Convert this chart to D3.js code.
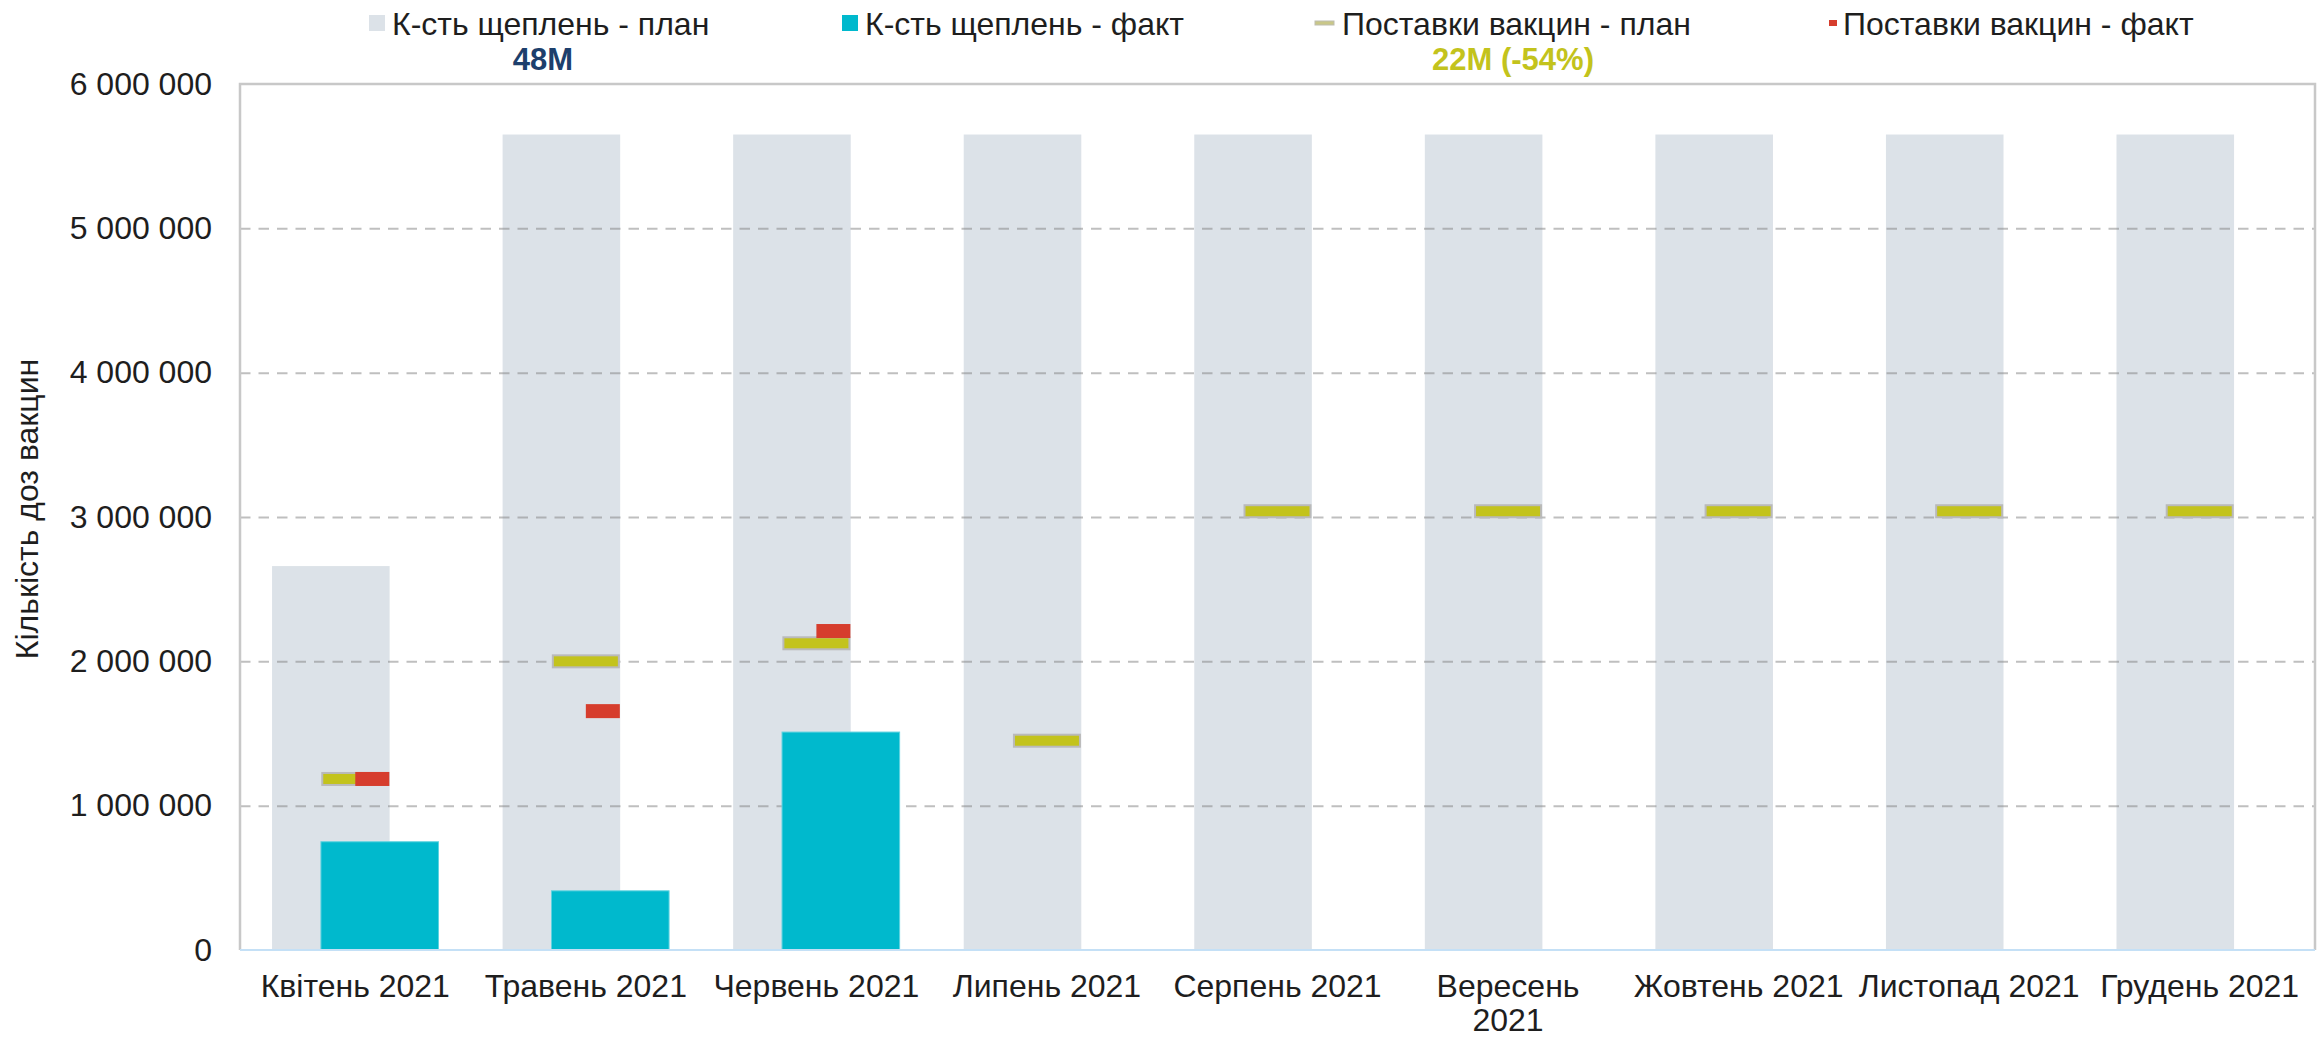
<!DOCTYPE html>
<meta charset="utf-8">
<style>
body { margin: 0; background: #fff; }
text { font-family: "Liberation Sans", Arial, sans-serif; }
</style>
<svg width="2323" height="1037"></svg>
<script src="https://d3js.org/d3.v7.min.js"></script>
<script>

// --- data ---
var months = ["Квітень 2021", "Травень 2021", "Червень 2021", "Липень 2021", "Серпень 2021",
              "Вересень 2021", "Жовтень 2021", "Листопад 2021", "Грудень 2021"];
var monthLines = [["Квітень 2021"], ["Травень 2021"], ["Червень 2021"], ["Липень 2021"], ["Серпень 2021"],
                  ["Вересень", "2021"], ["Жовтень 2021"], ["Листопад 2021"], ["Грудень 2021"]];
var vaccPlan   = [2660000, 5650000, 5650000, 5650000, 5650000, 5650000, 5650000, 5650000, 5650000];
var vaccFact   = [750000, 410000, 1510000, null, null, null, null, null, null];
var supplyPlan = [1185000, 2000000, 2125000, 1450000, 3040000, 3040000, 3040000, 3040000, 3040000];
var supplyFact = [1185000, 1655000, 2210000, null, null, null, null, null, null];
var yTicks = [0, 1000000, 2000000, 3000000, 4000000, 5000000, 6000000];
var gridTicks = [1000000, 2000000, 3000000, 4000000, 5000000];
var seriesNames = ["К-сть щеплень - план", "К-сть щеплень - факт", "Поставки вакцин - план", "Поставки вакцин - факт"];

var svg = d3.select("svg"),
    pLeft = 240, pRight = 2315, pTop = 84, pBottom = 950;

var x = d3.scaleBand().domain(months).range([pLeft, pRight]).padding(0);
var y = d3.scaleLinear().domain([0, 6000000]).range([pBottom, pTop]);
var bw = x.bandwidth();
var barW = bw * 0.51, shift = bw * 0.106;
var mW = bw * 0.295, mH = 14;

var fmt = d3.formatLocale({decimal: ",", thousands: " ", grouping: [3], currency: ["", ""]}).format(",");

var rows = months.map(function(m, i) {
  return {m: m, plan: vaccPlan[i], fact: vaccFact[i], sp: supplyPlan[i], sf: supplyFact[i]};
});
function cx(d) { return x(d.m) + bw / 2; }

// plan bars (behind the grid)
svg.append("g").selectAll("rect")
  .data(rows).enter().append("rect")
    .attr("x", d => cx(d) - shift - barW / 2)
    .attr("y", d => y(d.plan))
    .attr("width", barW)
    .attr("height", d => y(0) - y(d.plan))
    .attr("fill", "#dce2e8");

// dashed grid
var grid = svg.append("g")
    .attr("transform", "translate(" + pLeft + ",0)")
    .call(d3.axisLeft(y).tickValues(gridTicks).tickSize(-(pRight - pLeft)).tickFormat(""));
grid.select(".domain").remove();
grid.selectAll("line")
    .attr("stroke", "#7f7f7f")
    .attr("stroke-opacity", 0.5)
    .attr("stroke-width", 2)
    .attr("stroke-dasharray", "10.5,8");

// fact bars
svg.append("g").selectAll("rect")
  .data(rows.filter(d => d.fact != null)).enter().append("rect")
    .attr("x", d => cx(d) + shift - barW / 2)
    .attr("y", d => y(d.fact))
    .attr("width", barW)
    .attr("height", d => y(0) - y(d.fact))
    .attr("fill", "#00b9cd")
    .attr("stroke", "#5fd3e0")
    .attr("stroke-width", 1);

// supply plan markers
svg.append("g").selectAll("rect")
  .data(rows).enter().append("rect")
    .attr("x", d => cx(d) - mW / 2 + 1)
    .attr("y", d => y(d.sp) - mH / 2 + 1)
    .attr("width", mW - 2)
    .attr("height", mH - 2)
    .attr("fill", "#c3c31c")
    .attr("stroke", "#bababa")
    .attr("stroke-width", 2);

// supply fact markers (right half)
svg.append("g").selectAll("rect")
  .data(rows.filter(d => d.sf != null)).enter().append("rect")
    .attr("x", d => cx(d))
    .attr("y", d => y(d.sf) - mH / 2)
    .attr("width", mW / 2)
    .attr("height", mH)
    .attr("fill", "#d63d2d");

// frame
var frame = svg.append("g").attr("fill", "none");
frame.append("path")
    .attr("d", "M" + pLeft + "," + pBottom + "V" + pTop + "H" + pRight + "V" + pBottom)
    .attr("stroke", "#c8c8c8")
    .attr("stroke-width", 2.5);
frame.append("line")
    .attr("x1", pLeft).attr("x2", pRight).attr("y1", pBottom).attr("y2", pBottom)
    .attr("stroke", "#c4e0f6")
    .attr("stroke-width", 2);

// y axis labels
var yAxis = svg.append("g")
    .attr("transform", "translate(" + pLeft + ",0)")
    .call(d3.axisLeft(y).tickValues(yTicks).tickSize(0).tickPadding(28).tickFormat(fmt));
yAxis.select(".domain").remove();
yAxis.selectAll("text")
    .style("font-family", "'Liberation Sans', Arial, sans-serif")
    .style("font-size", "32px")
    .style("fill", "#1e1e1e");

// x axis labels
var xAxis = svg.append("g")
    .attr("transform", "translate(0," + pBottom + ")")
    .call(d3.axisBottom(x).tickSize(0).tickFormat(""));
xAxis.select(".domain").remove();
xAxis.selectAll(".tick").each(function(d, i) {
  var t = d3.select(this).append("text")
      .attr("text-anchor", "middle")
      .style("font-family", "'Liberation Sans', Arial, sans-serif")
      .style("font-size", "32px")
      .style("fill", "#1e1e1e");
  monthLines[i].forEach(function(line, j) {
    t.append("tspan").attr("x", 0).attr("y", 47 + j * 34).text(line);
  });
});

// y axis title
svg.append("text")
    .attr("transform", "translate(38,509) rotate(-90)")
    .attr("text-anchor", "middle")
    .style("font-size", "32px")
    .style("fill", "#1e1e1e")
    .text("Кількість доз вакцин");

// legend
var legend = svg.append("g").style("font-size", "32px");
legend.append("rect").attr("x", 369).attr("y", 15).attr("width", 16).attr("height", 16).attr("fill", "#dce2e8");
legend.append("text").attr("x", 392).attr("y", 35).style("fill", "#1e1e1e").text(seriesNames[0]);
legend.append("rect").attr("x", 842).attr("y", 15).attr("width", 16).attr("height", 16).attr("fill", "#00b9cd");
legend.append("text").attr("x", 865).attr("y", 35).style("fill", "#1e1e1e").text(seriesNames[1]);
legend.append("rect").attr("x", 1315).attr("y", 21).attr("width", 19).attr("height", 4)
    .attr("fill", "#c9c788").attr("stroke", "#bdbdb0").attr("stroke-width", 1);
legend.append("text").attr("x", 1342).attr("y", 35).style("fill", "#1e1e1e").text(seriesNames[2]);
legend.append("rect").attr("x", 1829).attr("y", 20).attr("width", 8).attr("height", 6).attr("fill", "#d63d2d");
legend.append("text").attr("x", 1843).attr("y", 35).style("fill", "#1e1e1e").text(seriesNames[3]);

legend.append("text").attr("x", 543).attr("y", 70).attr("text-anchor", "middle")
    .style("font-weight", "bold").style("font-size", "31px").style("fill", "#1d3f6c").text("48M");
legend.append("text").attr("x", 1513).attr("y", 70).attr("text-anchor", "middle")
    .style("font-weight", "bold").style("font-size", "31px").style("fill", "#c3c31c").text("22M (-54%)");

</script>
